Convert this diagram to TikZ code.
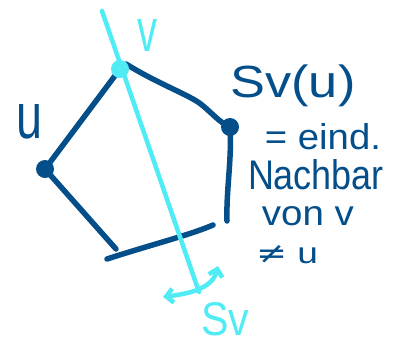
\documentclass[tikz,border=0pt]{standalone}
\usepackage{fontspec}
\setmainfont{Liberation Sans}
\newfontfamily\dvs{DejaVu Sans}
\usetikzlibrary{arrows.meta}
\definecolor{ink}{RGB}{4,78,138}
\definecolor{cyanink}{RGB}{80,236,246}
\tikzset{
  edge/.style={draw=ink, line width=5.5pt, line cap=round, line join=round},
  mirror/.style={draw=cyanink, line width=4.5pt, line cap=round},
  vdot/.style={circle, fill=ink, minimum size=18pt, inner sep=0pt},
  cdot/.style={circle, fill=cyanink, minimum size=18pt, inner sep=0pt},
  txt/.style={text=ink, inner sep=0pt, anchor=center},
  ctxt/.style={text=cyanink, inner sep=0pt, anchor=center}
}
\begin{document}
\begin{tikzpicture}[x=1pt,y=-1pt]
\useasboundingbox (0,0) rectangle (398,349);
% corners
\coordinate (top) at (102,11);
\coordinate (bot) at (199,292);
\coordinate (bl1) at (116,249);
\coordinate (bl2) at (107,259);
\coordinate (br1) at (213,225);
\coordinate (br2) at (227,221);
\node[vdot] (u) at (45,169) {};
\node[vdot] (w) at (230,127) {};
% pentagon edges
\draw[edge] (120,69) -- (u.center);
\draw[edge] (u.center) -- (bl1);
\draw[edge] (bl2) .. controls (150,245) and (190,235) .. (br1);
\draw[edge] (w.center) .. controls (232,160) and (226,190) .. (br2);
\draw[edge] (126,64) .. controls (160,85) and (190,95) .. (202,105) .. controls (212,113) and (220,123) .. (w.center);
% mirror line
\draw[mirror] (top) -- (bot);
\node[cdot] (v) at (120,69) {};
\draw[mirror, {Straight Barb[length=7pt,width=14pt]}-{Straight Barb[length=7pt,width=14pt]}] (163,297) .. controls (185,294) and (212,290) .. (218,266);
% labels
\node[txt] (lu) at (30,122) {\resizebox{26pt}{34pt}{u}};
\node[ctxt] (lv) at (147,35) {\resizebox{20pt}{32pt}{v}};
\node[ctxt] (lsv) at (225,319) {\resizebox{48pt}{33pt}{Sv}};
\node[txt] (t1) at (293,86) {\resizebox*{125pt}{42pt}{Sv(u)}};
\node[txt] (t2) at (323,137) {\resizebox{116pt}{26pt}{= eind.}};
\node[txt] (t3) at (316,175) {\resizebox{136pt}{30pt}{Nachbar}};
\node[txt] (t4) at (308,216) {\resizebox{92pt}{19pt}{von v}};
\node[txt] (t5) at (287,255) {\resizebox{62pt}{18pt}{{\dvs ≠} u}};
\end{tikzpicture}
\end{document}
